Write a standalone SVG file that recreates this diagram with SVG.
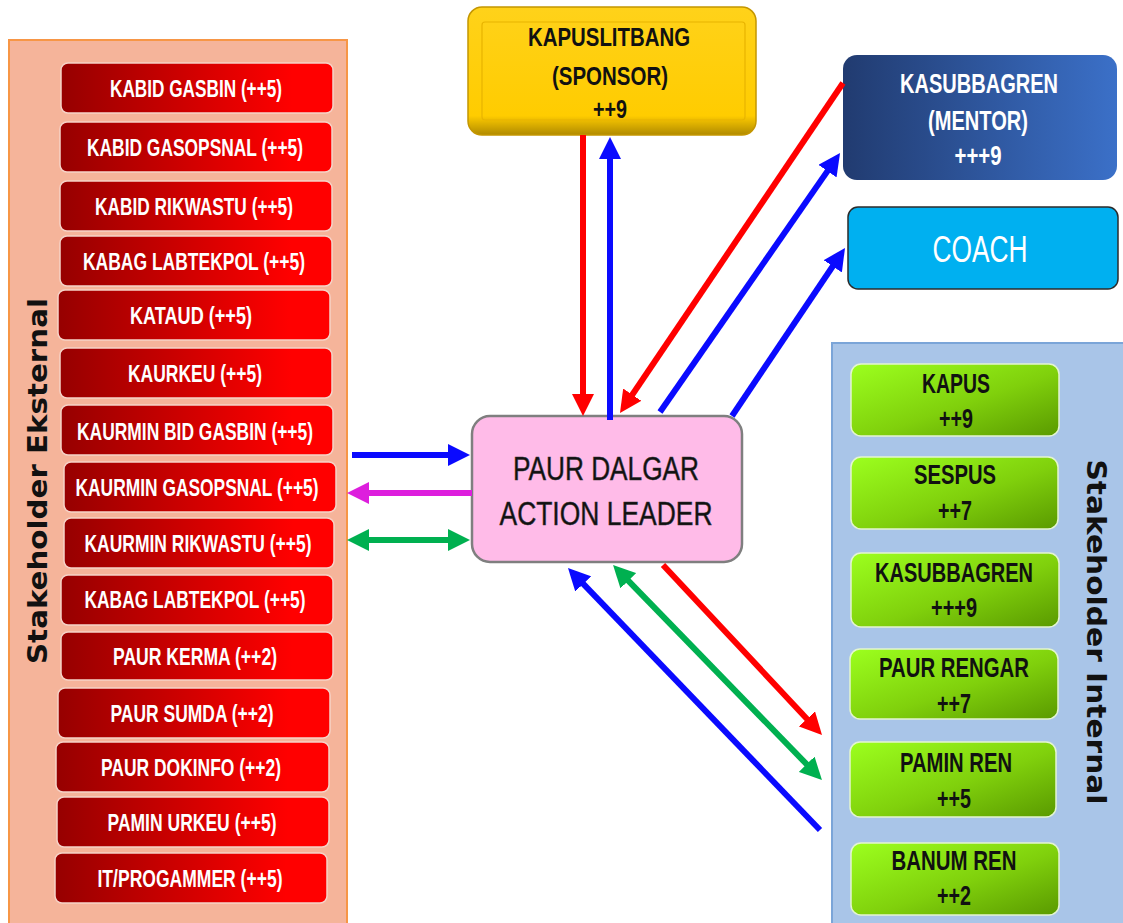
<svg xmlns="http://www.w3.org/2000/svg" width="1123" height="923" viewBox="0 0 1123 923">
<style>
.rb{fill:url(#gRed);stroke:#F6D3C8;stroke-width:1.5}
.rt{font-family:"Liberation Sans Narrow","Liberation Sans",sans-serif;font-weight:bold;font-size:24px;fill:#fff;text-anchor:middle}
.gb{fill:url(#gGreen);stroke:#E4F5D0;stroke-width:1.5}
.gt{font-family:"Liberation Sans Narrow","Liberation Sans",sans-serif;font-weight:bold;font-size:28px;fill:#111;text-anchor:middle}
.bt{font-family:"Liberation Sans Narrow","Liberation Sans",sans-serif;font-weight:bold;font-size:28px;fill:#fff;text-anchor:middle}
.yt{font-family:"Liberation Sans Narrow","Liberation Sans",sans-serif;font-weight:bold;font-size:26px;fill:#111;text-anchor:middle}
.side{font-family:"DejaVu Sans",sans-serif;font-weight:bold;font-size:26px;fill:#111;text-anchor:middle}
.ar{fill:none;stroke-width:6;stroke-linecap:butt}
</style>
<defs>
<linearGradient id="gRed" x1="0" y1="0" x2="1" y2="0"><stop offset="0" stop-color="#960000"/><stop offset="0.85" stop-color="#FF0000"/><stop offset="1" stop-color="#FF0000"/></linearGradient>
<linearGradient id="gGreen" x1="0" y1="0" x2="1" y2="1"><stop offset="0" stop-color="#9CFF1E"/><stop offset="0.55" stop-color="#80D00C"/><stop offset="1" stop-color="#5A9A00"/></linearGradient>
<linearGradient id="gNavy" x1="0" y1="0" x2="1" y2="0"><stop offset="0" stop-color="#213B70"/><stop offset="1" stop-color="#3B70C8"/></linearGradient>
<linearGradient id="gYel" x1="0" y1="0" x2="0" y2="1"><stop offset="0" stop-color="#FFD21A"/><stop offset="0.85" stop-color="#FFCC00"/><stop offset="1" stop-color="#B08A00"/></linearGradient>
<marker id="mR" markerUnits="userSpaceOnUse" markerWidth="22" markerHeight="22" viewBox="0 0 22 22" refX="10" refY="11" orient="auto-start-reverse"><path d="M0,0 L22,11 L0,22 z" fill="#FF0000"/></marker>
<marker id="mB" markerUnits="userSpaceOnUse" markerWidth="22" markerHeight="22" viewBox="0 0 22 22" refX="10" refY="11" orient="auto-start-reverse"><path d="M0,0 L22,11 L0,22 z" fill="#0A0AFF"/></marker>
<marker id="mG" markerUnits="userSpaceOnUse" markerWidth="22" markerHeight="22" viewBox="0 0 22 22" refX="10" refY="11" orient="auto-start-reverse"><path d="M0,0 L22,11 L0,22 z" fill="#00B050"/></marker>
<marker id="mM" markerUnits="userSpaceOnUse" markerWidth="22" markerHeight="22" viewBox="0 0 22 22" refX="10" refY="11" orient="auto-start-reverse"><path d="M0,0 L22,11 L0,22 z" fill="#DD1EDD"/></marker>
</defs>
<rect width="1123" height="923" fill="#fff"/>

<g id="panel-eksternal">
<rect x="9" y="40" width="338" height="900" fill="#F5B49A" stroke="#F79646" stroke-width="2"/>
<text class="side" transform="translate(47,481) rotate(-90)" textLength="366" lengthAdjust="spacingAndGlyphs">Stakeholder Eksternal</text>
</g>

<g id="panel-internal">
<rect x="832" y="343" width="300" height="600" fill="#A9C5E8" stroke="#7BA5D8" stroke-width="2"/>
<text class="side" transform="translate(1087,632) rotate(90)" textLength="345" lengthAdjust="spacingAndGlyphs">Stakeholder Internal</text>
</g>

<g id="ext-1"><rect class="rb" x="61" y="63" width="272" height="50" rx="7"/><text class="rt" x="196" y="97" textLength="172" lengthAdjust="spacingAndGlyphs">KABID GASBIN (++5)</text></g>
<g id="ext-2"><rect class="rb" x="60" y="122" width="272" height="50" rx="7"/><text class="rt" x="195" y="156" textLength="216" lengthAdjust="spacingAndGlyphs">KABID GASOPSNAL (++5)</text></g>
<g id="ext-3"><rect class="rb" x="60" y="181" width="272" height="50" rx="7"/><text class="rt" x="194" y="215" textLength="198" lengthAdjust="spacingAndGlyphs">KABID RIKWASTU (++5)</text></g>
<g id="ext-4"><rect class="rb" x="60" y="236" width="272" height="50" rx="7"/><text class="rt" x="194" y="270" textLength="222" lengthAdjust="spacingAndGlyphs">KABAG LABTEKPOL (++5)</text></g>
<g id="ext-5"><rect class="rb" x="58" y="290" width="272" height="50" rx="7"/><text class="rt" x="191" y="324" textLength="122" lengthAdjust="spacingAndGlyphs">KATAUD (++5)</text></g>
<g id="ext-6"><rect class="rb" x="60" y="348" width="272" height="50" rx="7"/><text class="rt" x="195" y="382" textLength="134" lengthAdjust="spacingAndGlyphs">KAURKEU (++5)</text></g>
<g id="ext-7"><rect class="rb" x="61" y="405" width="272" height="50" rx="7"/><text class="rt" x="195" y="440" textLength="236" lengthAdjust="spacingAndGlyphs">KAURMIN BID GASBIN (++5)</text></g>
<g id="ext-8"><rect class="rb" x="64" y="462" width="272" height="50" rx="7"/><text class="rt" x="197" y="496" textLength="243" lengthAdjust="spacingAndGlyphs">KAURMIN GASOPSNAL (++5)</text></g>
<g id="ext-9"><rect class="rb" x="64" y="518" width="270" height="50" rx="7"/><text class="rt" x="198" y="552" textLength="227" lengthAdjust="spacingAndGlyphs">KAURMIN RIKWASTU (++5)</text></g>
<g id="ext-10"><rect class="rb" x="61" y="575" width="272" height="50" rx="7"/><text class="rt" x="195" y="608" textLength="221" lengthAdjust="spacingAndGlyphs">KABAG LABTEKPOL (++5)</text></g>
<g id="ext-11"><rect class="rb" x="61" y="632" width="272" height="48" rx="7"/><text class="rt" x="195" y="665" textLength="164" lengthAdjust="spacingAndGlyphs">PAUR KERMA (++2)</text></g>
<g id="ext-12"><rect class="rb" x="58" y="688" width="272" height="50" rx="7"/><text class="rt" x="192" y="722" textLength="163" lengthAdjust="spacingAndGlyphs">PAUR SUMDA (++2)</text></g>
<g id="ext-13"><rect class="rb" x="56" y="742" width="273" height="50" rx="7"/><text class="rt" x="191" y="776" textLength="180" lengthAdjust="spacingAndGlyphs">PAUR DOKINFO (++2)</text></g>
<g id="ext-14"><rect class="rb" x="57" y="797" width="272" height="50" rx="7"/><text class="rt" x="192" y="831" textLength="169" lengthAdjust="spacingAndGlyphs">PAMIN URKEU (++5)</text></g>
<g id="ext-15"><rect class="rb" x="55" y="853" width="272" height="50" rx="7"/><text class="rt" x="190" y="887" textLength="185" lengthAdjust="spacingAndGlyphs">IT/PROGAMMER (++5)</text></g>

<g id="sponsor">
<rect x="468" y="7" width="288" height="128" rx="14" fill="url(#gYel)" stroke="#C49600" stroke-width="1.5"/>
<rect x="482" y="22" width="263" height="98" rx="3" fill="none" stroke="#E8B400" stroke-width="1.2"/>
<text class="yt" x="609" y="46" textLength="162" lengthAdjust="spacingAndGlyphs">KAPUSLITBANG</text>
<text class="yt" x="610" y="85" textLength="116" lengthAdjust="spacingAndGlyphs">(SPONSOR)</text>
<text class="yt" x="610" y="118" textLength="34" lengthAdjust="spacingAndGlyphs">++9</text>
</g>

<g id="mentor">
<rect x="843" y="55" width="274" height="125" rx="14" fill="url(#gNavy)"/>
<text class="bt" x="979" y="93" textLength="158" lengthAdjust="spacingAndGlyphs">KASUBBAGREN</text>
<text class="bt" x="978" y="130" textLength="100" lengthAdjust="spacingAndGlyphs">(MENTOR)</text>
<text class="bt" x="978" y="165" textLength="47" lengthAdjust="spacingAndGlyphs">+++9</text>
</g>

<g id="coach">
<rect x="848" y="207" width="270" height="82" rx="10" fill="#00B0F0" stroke="#2B2B2B" stroke-width="1.5"/>
<text class="bt" x="980" y="262" style="font-size:37px;font-weight:normal" textLength="95" lengthAdjust="spacingAndGlyphs">COACH</text>
</g>

<g id="action-leader">
<rect x="472" y="416" width="270" height="146" rx="18" fill="#FFBBE8" stroke="#7F7F7F" stroke-width="2.5"/>
<text x="606" y="480" font-family="Liberation Sans, sans-serif" font-size="34" fill="#111" stroke="#333" stroke-width="0.5" text-anchor="middle" textLength="186" lengthAdjust="spacingAndGlyphs">PAUR DALGAR</text>
<text x="606" y="525" font-family="Liberation Sans, sans-serif" font-size="34" fill="#111" stroke="#333" stroke-width="0.5" text-anchor="middle" textLength="213" lengthAdjust="spacingAndGlyphs">ACTION LEADER</text>
</g>

<g id="int-1"><rect class="gb" x="851" y="364" width="208" height="72" rx="10"/><text class="gt" x="956" y="393" textLength="68" lengthAdjust="spacingAndGlyphs">KAPUS</text><text class="gt" x="956" y="428" textLength="34" lengthAdjust="spacingAndGlyphs">++9</text></g>
<g id="int-2"><rect class="gb" x="851" y="457" width="207" height="72" rx="10"/><text class="gt" x="955" y="484" textLength="82" lengthAdjust="spacingAndGlyphs">SESPUS</text><text class="gt" x="955" y="520" textLength="34" lengthAdjust="spacingAndGlyphs">++7</text></g>
<g id="int-3"><rect class="gb" x="851" y="553" width="208" height="74" rx="10"/><text class="gt" x="954" y="582" textLength="158" lengthAdjust="spacingAndGlyphs">KASUBBAGREN</text><text class="gt" x="954" y="617" textLength="46" lengthAdjust="spacingAndGlyphs">+++9</text></g>
<g id="int-4"><rect class="gb" x="850" y="649" width="208" height="70" rx="10"/><text class="gt" x="954" y="677" textLength="150" lengthAdjust="spacingAndGlyphs">PAUR RENGAR</text><text class="gt" x="954" y="713" textLength="34" lengthAdjust="spacingAndGlyphs">++7</text></g>
<g id="int-5"><rect class="gb" x="850" y="742" width="206" height="75" rx="10"/><text class="gt" x="956" y="772" textLength="112" lengthAdjust="spacingAndGlyphs">PAMIN REN</text><text class="gt" x="954" y="808" textLength="34" lengthAdjust="spacingAndGlyphs">++5</text></g>
<g id="int-6"><rect class="gb" x="851" y="843" width="208" height="72" rx="10"/><text class="gt" x="954" y="870" textLength="125" lengthAdjust="spacingAndGlyphs">BANUM REN</text><text class="gt" x="954" y="905" textLength="34" lengthAdjust="spacingAndGlyphs">++2</text></g>

<g id="connectors">
<line class="ar" x1="583" y1="135" x2="583" y2="404" stroke="#FF0000" marker-end="url(#mR)"/>
<line class="ar" x1="610" y1="420" x2="610" y2="149" stroke="#0A0AFF" marker-end="url(#mB)"/>
<line class="ar" x1="843" y1="83" x2="626.7" y2="403" stroke="#FF0000" marker-end="url(#mR)"/>
<line class="ar" x1="660" y1="412" x2="833.2" y2="162.9" stroke="#0A0AFF" marker-end="url(#mB)"/>
<line class="ar" x1="732" y1="416" x2="838.3" y2="258" stroke="#0A0AFF" marker-end="url(#mB)"/>
<line class="ar" x1="352" y1="455" x2="458" y2="455" stroke="#0A0AFF" marker-end="url(#mB)"/>
<line class="ar" x1="472" y1="493" x2="359" y2="493" stroke="#DD1EDD" marker-end="url(#mM)"/>
<line class="ar" x1="359" y1="540" x2="458" y2="540" stroke="#00B050" marker-start="url(#mG)" marker-end="url(#mG)"/>
<line class="ar" x1="663" y1="565" x2="813.8" y2="726.2" stroke="#FF0000" marker-end="url(#mR)"/>
<line class="ar" x1="621.4" y1="573.6" x2="813.6" y2="771.4" stroke="#00B050" marker-start="url(#mG)" marker-end="url(#mG)"/>
<line class="ar" x1="820" y1="830" x2="576.3" y2="576.7" stroke="#0A0AFF" marker-end="url(#mB)"/>
</g>
</svg>
